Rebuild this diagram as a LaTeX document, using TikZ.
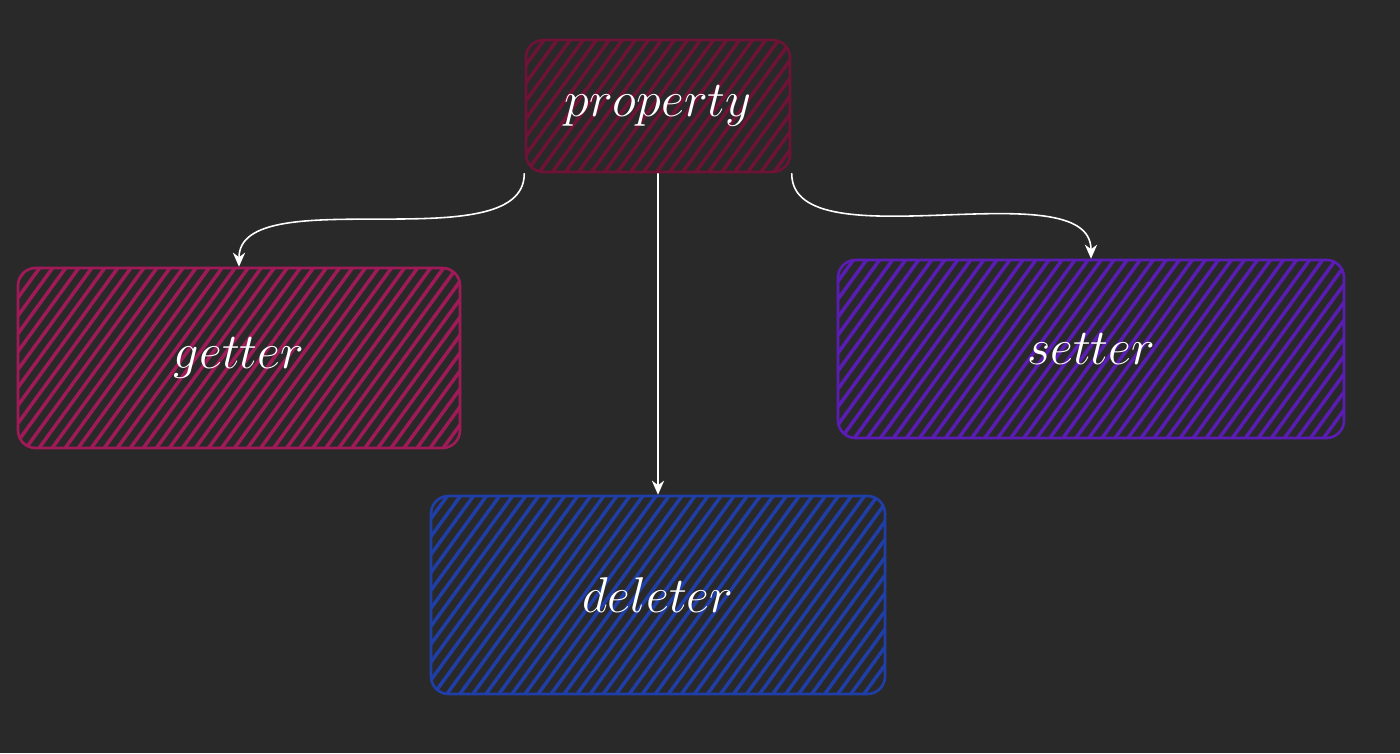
\documentclass[tikz,border=0pt]{standalone}
\usetikzlibrary{patterns.meta,arrows.meta}
\newcommand{\boxlabel}[1]{\scalebox{1.15}{$#1$}}
\begin{document}
\begin{tikzpicture}[line cap=round]
  % Colors
  \definecolor{bgcolor}{HTML}{292929}
  \definecolor{propcolor}{HTML}{6E1236}
  \definecolor{getcolor}{HTML}{A01A58}
  \definecolor{setcolor}{HTML}{5A1CB4}
  \definecolor{delcolor}{HTML}{1F3EA8}

  % Styles
  \tikzset{
    hatchbox/.style={rounded corners=10pt,line width=1.5pt,draw=#1,
      pattern={Lines[angle=54,distance=6pt,line width=2pt]},pattern color=#1,
      text=white,font=\Huge,inner sep=0pt},
    link/.style={white,line width=0.9pt,-{Stealth[length=8pt,width=7pt]}}
  }

  % The graphic
  \fill[bgcolor] (0,0) rectangle (28,15.06);

  \node[hatchbox=propcolor,minimum width=5.28cm,minimum height=2.64cm]
    (property) at (13.16,12.94) {\boxlabel{property}};
  \node[hatchbox=getcolor,minimum width=8.84cm,minimum height=3.6cm]
    (getter) at (4.78,7.90) {\boxlabel{getter}};
  \node[hatchbox=setcolor,minimum width=10.12cm,minimum height=3.56cm]
    (setter) at (21.82,8.08) {\boxlabel{setter}};
  \node[hatchbox=delcolor,minimum width=9.08cm,minimum height=3.96cm]
    (deleter) at (13.16,3.16) {\boxlabel{deleter}};

  \draw[link] (property.south west) to[out=-90,in=90,looseness=0.75] (getter.north);
  \draw[link] (property.south) -- (deleter.north);
  \draw[link] (property.south east) to[out=-90,in=90,looseness=0.75] (setter.north);
\end{tikzpicture}
\end{document}
